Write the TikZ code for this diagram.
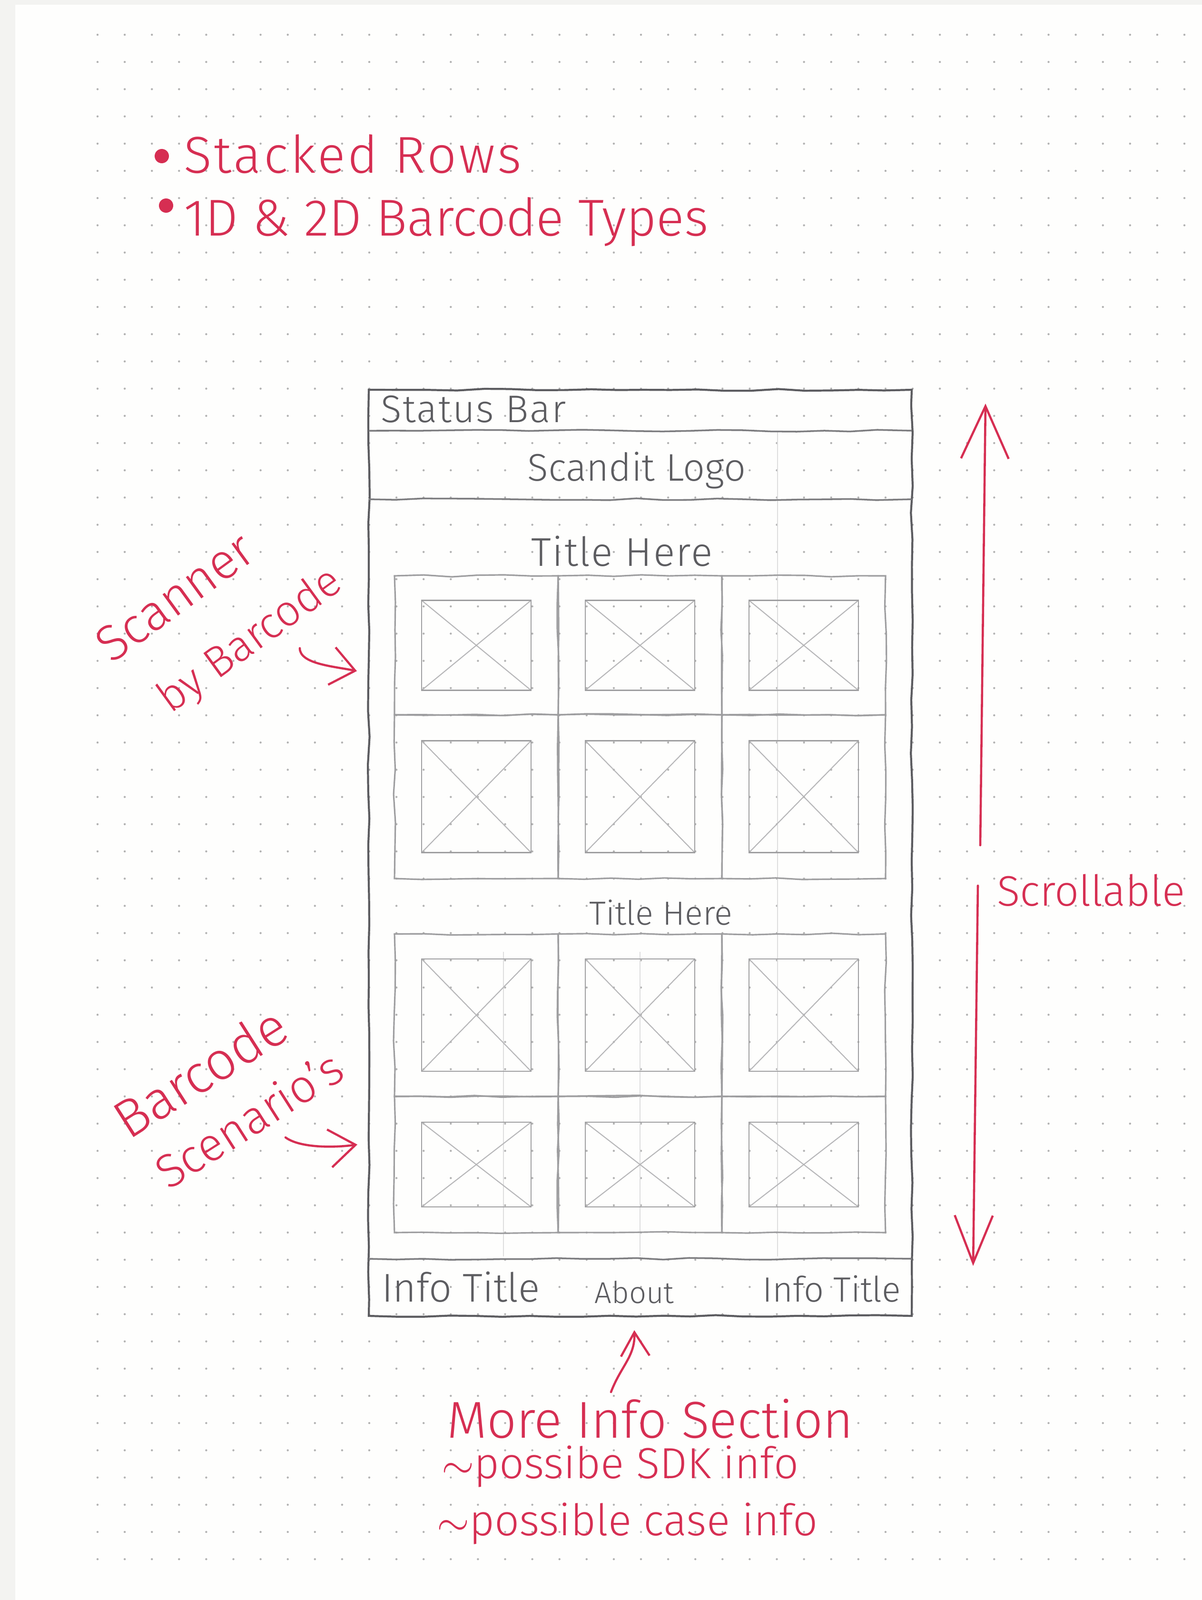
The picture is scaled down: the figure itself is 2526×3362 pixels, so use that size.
\documentclass[tikz,border=0pt]{standalone}
\usepackage{fontspec}
\setmainfont{Fira Sans Light}
\usepackage{tikz}
\usetikzlibrary{arrows.meta,positioning,decorations.pathmorphing}

\definecolor{pencil}{RGB}{92,92,96}
\definecolor{pencillight}{RGB}{158,158,160}
\definecolor{redpen}{RGB}{214,46,82}
\definecolor{paper}{RGB}{254,254,253}
\definecolor{papergray}{RGB}{243,243,241}
\definecolor{dotgray}{RGB}{178,178,178}

\begin{document}
\begin{tikzpicture}[
  x=0.1mm, y=-0.1mm,
  every node/.style={inner sep=0pt, outer sep=0pt},
  sketch/.style={decorate, decoration={random steps, segment length=16pt, amplitude=0.6pt}},
  frame/.style={draw=pencil, line width=1.2pt, sketch},
  region/.style={minimum width=114.1mm},
  divider/.style={draw=pencil!80, line width=1pt, sketch},
  cell/.style={draw=pencillight, line width=0.9pt, sketch, minimum width=34.4mm},
  imgbox/.style={draw=pencillight, line width=0.8pt, minimum width=23mm,
    path picture={\draw[pencillight!75, line width=0.6pt]
      (path picture bounding box.north west) -- (path picture bounding box.south east)
      (path picture bounding box.south west) -- (path picture bounding box.north east);}},
  pentext/.style={text=pencil},
  redtext/.style={text=redpen},
  bulletdot/.style={circle, fill=redpen, minimum size=3mm},
  redarrow/.style={draw=redpen, line width=1.3pt, line cap=round},
  guide/.style={draw=pencillight!35, line width=0.5pt}
]

\fill[paper] (0,0) rectangle (2526,3362);
\fill[papergray] (0,0) rectangle (32,3362);
\fill[papergray] (0,0) rectangle (2526,10);
\useasboundingbox (0,0) rectangle (2526,3362);

\foreach \i in {0,...,40}
  \foreach \j in {0,...,56}
    \fill[dotgray] (205+57.1*\i, 73+57.2*\j) circle (2.2);

% notes on top
\node[bulletdot] (bullet-rows) at (340,328) {};
\node[bulletdot] (bullet-types) at (349,432) {};
\node[redtext, font=\fontsize{31}{36}\selectfont\addfontfeature{LetterSpace=4.5}, anchor=base west] (note-rows) at (386,363) {Stacked Rows};
\node[redtext, font=\fontsize{31}{36}\selectfont, anchor=base west] (note-types) at (386,495) {1D \& 2D Barcode Types};

% phone
\node[region, minimum height=8.6mm] (status) at (1345.5,862) {};
\node[region, minimum height=14.4mm] (logo) at (1345.5,977) {};
\node[region, minimum height=12mm] (footer) at (1345.5,2705) {};
\draw[guide] (1058,2000) -- (1058,2640);
\draw[guide] (1345,2000) -- (1345,2640);
\draw[guide] (1634,905) -- (1634,2640);
\node[frame, minimum width=114.1mm, minimum height=194.6mm] (phone) at (1345.5,1792) {};
\draw[divider] (status.south west) -- (status.south east);
\draw[divider] (logo.south west) -- (logo.south east);
\draw[divider] (footer.north west) -- (footer.north east);

\node[pentext, font=\fontsize{23}{27}\selectfont\addfontfeature{LetterSpace=3}, anchor=base west] (status-label) at (800,887) {Status Bar};
\node[pentext, font=\fontsize{23}{27}\selectfont, anchor=base] (logo-label) at (1338,1010) {Scandit Logo};
\node[pentext, font=\fontsize{24}{28}\selectfont\addfontfeature{LetterSpace=3}, anchor=base] (title-top) at (1307,1189) {Title Here};
\node[pentext, font=\fontsize{20}{24}\selectfont, anchor=base] (title-bottom) at (1389,1943) {Title Here};

\foreach \c/\x in {1/1001,2/1345,3/1689} {
  \node[cell, minimum height=29.2mm] (top-a\c) at (\x,1356) {};
  \node[imgbox, minimum height=18.9mm] (top-img-a\c) at (top-a\c) {};
  \node[cell, minimum height=34.4mm] (top-b\c) at (\x,1674) {};
  \node[imgbox, minimum height=23.5mm] (top-img-b\c) at (top-b\c) {};
  \node[cell, minimum height=34.1mm] (bot-a\c) at (\x,2133) {};
  \node[imgbox, minimum height=23.6mm] (bot-img-a\c) at (bot-a\c) {};
  \node[cell, minimum height=28.6mm] (bot-b\c) at (\x,2447) {};
  \node[imgbox, minimum height=17.8mm] (bot-img-b\c) at (bot-b\c) {};
}

\node[pentext, font=\fontsize{24}{28}\selectfont, anchor=base west] (info-left) at (802,2735) {Info Title};
\node[pentext, font=\fontsize{18}{22}\selectfont, anchor=base] (about) at (1333,2738) {About};
\node[pentext, font=\fontsize{21}{25}\selectfont, anchor=base east] (info-right) at (1893,2735) {Info Title};

% red notes
\node[redtext, font=\fontsize{30}{45}\selectfont, align=left, rotate=36] (note-scanner) at (463,1293)
  {Scanner\\\hspace*{11pt}{\fontsize{26}{45}\selectfont by Barcode}};
\coordinate (scan-from) at (630,1362);
\coordinate (scan-to) at (750,1410);
\draw[redarrow, -{Straight Barb[length=5mm,width=8mm]}] (scan-from) .. controls (630,1395) and (700,1400) .. (scan-to);

\node[redtext, font=\fontsize{32}{38}\selectfont, align=left, rotate=32.5] (note-scen) at (478,2295)
  {Barcode\\\hspace*{4pt}{\fontsize{28}{38}\selectfont Scenario's}};
\coordinate (scen-from) at (600,2390);
\coordinate (scen-to) at (751,2405);
\draw[redarrow, -{Straight Barb[length=5.5mm,width=8mm]}] (scen-from) .. controls (630,2412) and (700,2412) .. (scen-to);

\coordinate (scroll-top) at (2071,848);
\coordinate (scroll-gap-top) at (2060,1776);
\coordinate (scroll-gap-bot) at (2055,1861);
\coordinate (scroll-bot) at (2045,2660);
\draw[redarrow, -{Straight Barb[length=11mm,width=10mm]}] (scroll-gap-top) -- (scroll-top);
\draw[redarrow, -{Straight Barb[length=10mm,width=8mm]}] (scroll-gap-bot) -- (scroll-bot);
\node[redtext, font=\fontsize{25.5}{30}\selectfont, anchor=base west] (note-scroll) at (2095,1903) {Scrollable};

\node[redtext, font=\fontsize{31}{36}\selectfont, anchor=base] (note-more) at (1366,3021) {More Info Section};
\node[redtext, font=\fontsize{26}{30}\selectfont, anchor=base west] (note-sdk) at (928,3106) {$\sim$possibe SDK info};
\node[redtext, font=\fontsize{26}{30}\selectfont, anchor=base west] (note-case) at (918,3226) {$\sim$possible case info};
\coordinate (more-from) at (1284,2925);
\draw[redarrow, -{Straight Barb[length=5mm,width=6mm]}] (more-from) .. controls (1305,2870) and (1335,2850) .. (about.south |- 0,2795);

\end{tikzpicture}
\end{document}
